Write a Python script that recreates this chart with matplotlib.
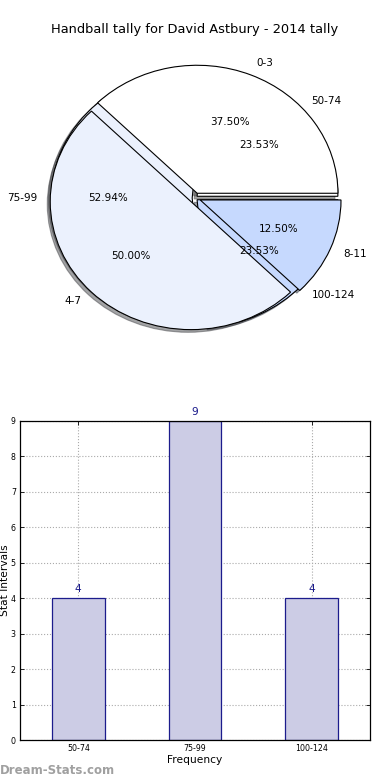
import numpy as np
import matplotlib
matplotlib.use("Agg")
import matplotlib.pyplot as plt

# pie data (two tallies drawn on top of each other)
inner_labels = ['0-3', '4-7', '8-11']
inner_counts = [3, 4, 1]
outer_labels = ['50-74', '75-99', '100-124']
outer_counts = [4, 9, 4]

# bar data
bar_labels = ['50-74', '75-99', '100-124']
bar_counts = [4, 9, 4]

pie_colors = ['#ffffff', '#ebf1fd', '#c6d9fe']

fig = plt.figure(figsize=(3.9, 7.8), dpi=100)

# ------------------------------------------------------------------------------
# pie (not forced to equal aspect -> slightly squashed like the original)
# ------------------------------------------------------------------------------
ax1 = fig.add_axes([19 / 390, 422 / 780, 352 / 390, 320 / 780])
shadow = {'ox': -0.015, 'oy': -0.015}
wp = {'linewidth': 0.8, 'edgecolor': 'black'}
ax1.pie(outer_counts, labels=outer_labels, colors=pie_colors, autopct='%1.2f%%',
        explode=(0.02, 0.02, 0.02), shadow=shadow, wedgeprops=wp,
        textprops={'fontsize': 7.5})
ax1.pie(inner_counts, labels=inner_labels, colors=pie_colors, autopct='%1.2f%%',
        explode=(0.04, 0.04, 0.04), shadow=shadow, wedgeprops=wp,
        textprops={'fontsize': 7.5})
ax1.set_aspect('auto')
ax1.set_xlim(-1.25, 1.25)
ax1.set_ylim(-1.25, 1.25)
fig.text(0.5, 1 - 30 / 780, 'Handball tally for David Astbury - 2014 tally',
         ha='center', va='center', fontsize=9.4)

# ------------------------------------------------------------------------------
# bars
# ------------------------------------------------------------------------------
ax2 = fig.add_axes([20 / 390, 40 / 780, 350 / 390, 319 / 780])
x = np.arange(len(bar_labels))
bars = ax2.bar(x, bar_counts, width=0.45, color='#ccccE5', edgecolor='#1c1c8c',
               linewidth=0.9, zorder=2)
for b, v in zip(bars, bar_counts):
    ax2.text(b.get_x() + b.get_width() / 2, v + 0.12, str(v), ha='center',
             va='bottom', color='#1c1c8c', fontsize=7.7)

ax2.set_xlim(-0.5, 2.5)
ax2.set_ylim(0, 9)
ax2.set_xticks(x)
ax2.set_xticklabels(bar_labels)
ax2.set_yticks(np.arange(0, 10))
ax2.tick_params(direction='in', top=True, right=True, labelsize=5.7, length=3,
                width=0.6, pad=3)
ax2.grid(True, linestyle=':', color='#aaaaaa', linewidth=0.8, zorder=0)
ax2.set_axisbelow(True)
ax2.set_xlabel('Frequency', fontsize=7.7, labelpad=1)
ax2.set_ylabel('Stat Intervals', fontsize=7.7)
ax2.yaxis.set_label_coords(-10 / 350, 0.5)
for s in ax2.spines.values():
    s.set_linewidth(0.9)

fig.text(0.0, 10 / 780, 'Dream-Stats.com', ha='left', va='center',
         fontsize=8.5, color='#a0a0a0', fontweight='bold')

plt.savefig('out.png', dpi=100)
